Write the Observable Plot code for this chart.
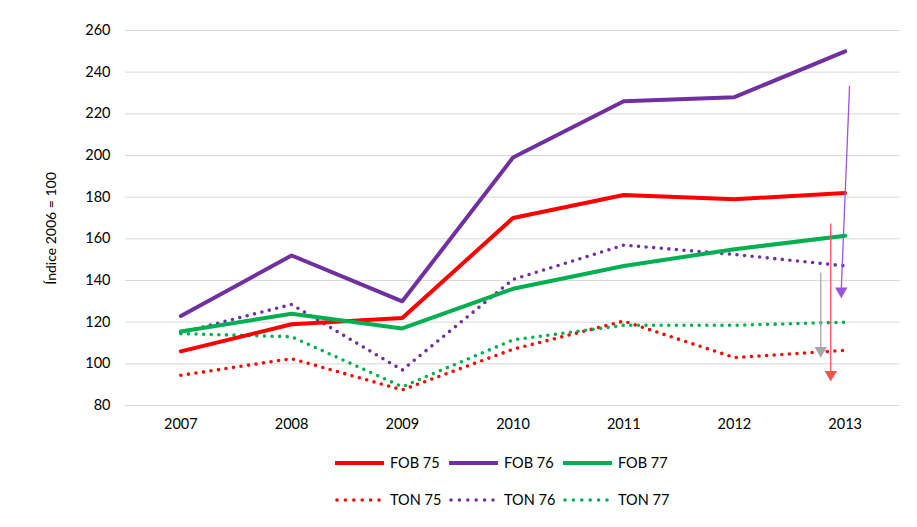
<!DOCTYPE html>
<html>
<head>
<meta charset="utf-8">
<script src="https://cdn.jsdelivr.net/npm/d3@7"></script>
<script src="https://cdn.jsdelivr.net/npm/@observablehq/plot@0.6"></script>
<style>
  body { margin: 0; background: #fff; font-family: Lato, "Open Sans", sans-serif; }
  #wrap { position: relative; width: 917px; height: 527px; }
  .legend { position: absolute; left: 335px; display: flex; }
  .item { width: 114px; display: flex; align-items: center; font-size: 14.5px; color: #000; }
  .item svg { margin-right: 5px; }
</style>
</head>
<body>
<div id="wrap"></div>
<script>
const years = [2007, 2008, 2009, 2010, 2011, 2012, 2013];
const fob75 = [106, 119, 122, 170, 181, 179, 182];
const fob76 = [123, 152, 130, 199, 226, 228, 250];
const fob77 = [115.5, 124, 117, 136, 147, 155, 161.5];
const ton75 = [94.5, 102.5, 87.5, 107, 120.5, 103, 106.5];
const ton76 = [115, 128.5, 97, 140.5, 157, 152.5, 147];
const ton77 = [114.5, 113, 89, 111.5, 118.5, 118.5, 120];
const yTicks = [80, 100, 120, 140, 160, 180, 200, 220, 240, 260];

const seriesNames = ["FOB 75", "FOB 76", "FOB 77", "TON 75", "TON 76", "TON 77"];
const seriesValues = [fob75, fob76, fob77, ton75, ton76, ton77];
const seriesColors = ["#FF0000", "#7030A0", "#00B050", "#FF0000", "#7030A0", "#00B050"];
const seriesDotted = [false, false, false, true, true, true];

// annotation arrows (year position, from value, to value)
const arrowX1 = [2013.04, 2012.78, 2012.87];
const arrowX2 = [2012.965, 2012.78, 2012.87];
const arrowFrom = [233.5, 143.8, 167.4];
const arrowTo = [131.5, 103, 91.5];
const arrowColors = ["#9955DD", "#A6A6A6", "#FF5050"];

const rows = [];
seriesNames.forEach((name, i) => {
  seriesValues[i].forEach((v, j) => rows.push({series: name, year: years[j], value: v, i}));
});
const arrows = arrowFrom.map((f, k) => ({x1: arrowX1[k], x2: arrowX2[k], y1: f, y2: arrowTo[k], color: arrowColors[k]}));

const solid = rows.filter(d => !seriesDotted[d.i]);
const dotted = rows.filter(d => seriesDotted[d.i]);

const marks = [
  Plot.ruleY(yTicks, {stroke: "#D9D9D9", strokeWidth: 1}),
  Plot.axisY({ticks: yTicks, tickSize: 0, tickPadding: 15, label: null, fontSize: 14.5}),
  Plot.axisX({ticks: years, tickFormat: d => String(d), tickSize: 0, tickPadding: 13, label: null, fontSize: 14.5}),
  Plot.text(["Índice 2006 = 100"], {frameAnchor: "left", textAnchor: "middle", dx: -74, rotate: -90, fontSize: 14, fill: "#000", y: 165})
];
seriesNames.forEach((name, i) => {
  if (seriesDotted[i]) {
    marks.push(Plot.line(dotted.filter(d => d.series === name), {x: "year", y: "value", stroke: seriesColors[i], strokeWidth: 3.6, strokeDasharray: "0 7.6", strokeLinecap: "round"}));
  }
});
seriesNames.forEach((name, i) => {
  if (!seriesDotted[i]) {
    marks.push(Plot.line(solid.filter(d => d.series === name), {x: "year", y: "value", stroke: seriesColors[i], strokeWidth: 4, strokeLinejoin: "round"}));
  }
});
marks.push(Plot.link(arrows, {x1: "x1", y1: "y1", x2: "x2", y2: d => d.y2 + 4, stroke: "color", strokeWidth: 1.3}));
marks.push(Plot.dot(arrows, {x: "x2", y: d => d.y2 + 3.4, symbol: "triangle", rotate: 180, r: 4.6, fill: "color", stroke: "none"}));

const chart = Plot.plot({
  width: 917,
  height: 440,
  marginLeft: 125,
  marginRight: 17,
  marginTop: 30,
  marginBottom: 35,
  style: {fontFamily: "Lato, 'Open Sans', sans-serif", color: "#000", background: "#fff"},
  x: {domain: [2006.5, 2013.5]},
  y: {domain: [80, 260]},
  color: {type: "identity"},
  marks
});
const wrap = document.getElementById("wrap");
wrap.appendChild(chart);

function legendRow(top, idxs) {
  const row = document.createElement("div");
  row.className = "legend";
  row.style.top = top + "px";
  idxs.forEach(i => {
    const it = document.createElement("div");
    it.className = "item";
    const ns = "http://www.w3.org/2000/svg";
    const s = document.createElementNS(ns, "svg");
    s.setAttribute("width", 50); s.setAttribute("height", 10);
    const l = document.createElementNS(ns, "line");
    l.setAttribute("y1", 5); l.setAttribute("y2", 5);
    l.setAttribute("stroke", seriesColors[i]);
    if (seriesDotted[i]) {
      l.setAttribute("x1", 2); l.setAttribute("x2", 46);
      l.setAttribute("stroke-width", 3.6);
      l.setAttribute("stroke-dasharray", "0 8.4");
      l.setAttribute("stroke-linecap", "round");
    } else {
      l.setAttribute("x1", 0); l.setAttribute("x2", 49);
      l.setAttribute("stroke-width", 4);
    }
    s.appendChild(l);
    it.appendChild(s);
    const t = document.createElement("span");
    t.textContent = seriesNames[i];
    it.appendChild(t);
    row.appendChild(it);
  });
  wrap.appendChild(row);
}
legendRow(454, [0, 1, 2]);
legendRow(491, [3, 4, 5]);
</script>
</body>
</html>
